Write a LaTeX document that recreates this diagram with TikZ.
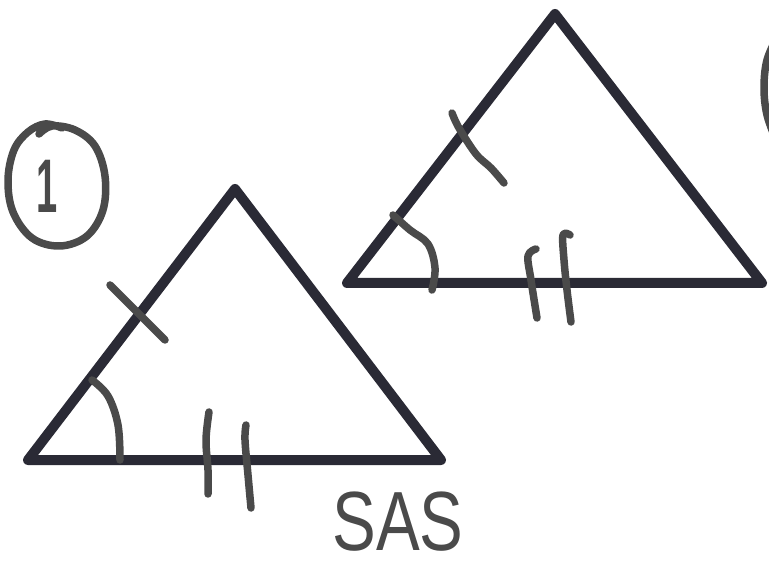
\documentclass[tikz,border=0pt]{standalone}
\usepackage{fontspec}
\setmainfont{Liberation Sans}
\begin{document}
\begin{tikzpicture}[x=1pt,y=-1pt,
  tri/.style={draw=triink,line width=10pt,line join=round,line cap=round},
  pen/.style={draw=penink,line width=7.5pt,line cap=round,line join=round},
  hand/.style={text=penink,inner sep=0pt,text depth=0pt}]
\definecolor{triink}{HTML}{2A2A35}
\definecolor{penink}{HTML}{4A4A4A}
\useasboundingbox[fill=white] (0,0) rectangle (769,569);
% triangle 1
\coordinate (A1) at (28,460);
\coordinate (B1) at (235,189);
\coordinate (C1) at (441,460);
\draw[tri] (A1) -- (B1) -- (C1) -- cycle;
% triangle 2
\coordinate (A2) at (347,283);
\coordinate (B2) at (555,14);
\coordinate (C2) at (762,283);
\draw[tri] (A2) -- (B2) -- (C2) -- cycle;
% marks on triangle 1
\draw[pen] (110,285) -- (165,340);
\draw[pen] plot[smooth,tension=0.6] coordinates {(92,380) (108,396) (118,425) (120,460)};
\draw[pen] plot[smooth,tension=0.6] coordinates {(209,412) (206,440) (208,470) (208,494)};
\draw[pen] plot[smooth,tension=0.6] coordinates {(246,425) (245,440) (248,475) (251,508)};
% marks on triangle 2
\draw[pen] plot[smooth,tension=0.6] coordinates {(452,113) (459,128) (476,154) (491,168) (504,183)};
\draw[pen] plot[smooth,tension=0.6] coordinates {(393,215) (410,230) (428,244) (435,268) (432,290)};
\draw[pen] plot[smooth,tension=0.6] coordinates {(536,249) (528,256) (531,280) (537,318)};
\draw[pen] plot[smooth,tension=0.6] coordinates {(570,235) (563,235) (564,260) (567,290) (571,322)};
% circled 1
\draw[pen] plot[smooth,tension=0.6] coordinates {(39,134) (52,126) (75,130) (95,146) (105,176) (103,210) (87,236) (60,246) (32,238) (13,212) (8,180) (14,150) (28,132) (45,124) (62,128)};
\node[hand,font=\bfseries\fontsize{76}{76}\selectfont,xscale=0.5,anchor=base] (one) at (47,213) {1};
% partial circle at right edge
\draw[pen] plot[smooth,tension=0.6] coordinates {(778,35) (767,60) (764,88) (767,115) (776,140)};
% SAS
\node[hand,font=\fontsize{84}{84}\selectfont,xscale=0.78,anchor=base] (sas) at (398,550) {SAS};
\end{tikzpicture}
\end{document}
